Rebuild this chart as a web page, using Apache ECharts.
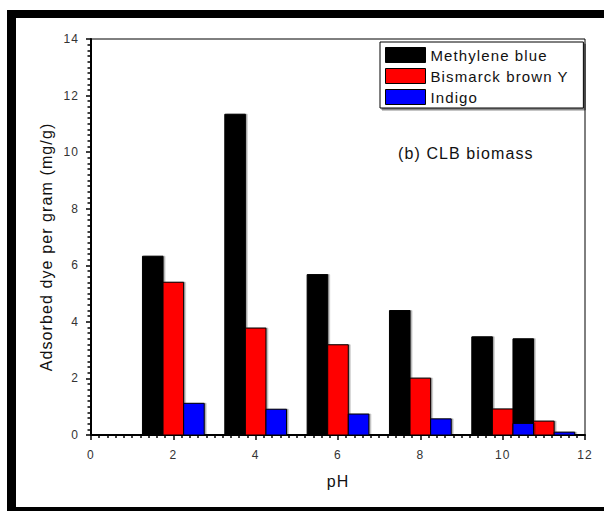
<!DOCTYPE html>
<html>
<head>
<meta charset="utf-8">
<script src="https://cdn.jsdelivr.net/npm/echarts@6/dist/echarts.min.js"></script>
<style>
  html, body { margin: 0; padding: 0; background: #fff; }
  #chart { width: 604px; height: 511px; }
  /* bitmap-style wide glyph spacing */
  #chart svg text { letter-spacing: 1.1px; }
</style>
</head>
<body>
<div id="chart"></div>
<script>
// pH of each bar group
const phValues = [2, 4, 6, 8, 10, 11];
// adsorbed dye per gram (mg/g)
const methyleneBlue = [6.32, 11.34, 5.67, 4.40, 3.47, 3.40];
const bismarckBrownY = [5.40, 3.78, 3.19, 2.01, 0.92, 0.49];
const indigo = [1.12, 0.91, 0.74, 0.57, 0.41, 0.10];

const seriesNames = ['Methylene blue', 'Bismarck brown Y', 'Indigo'];
const seriesColors = ['#000000', '#ff0000', '#0000ff'];
const seriesValues = [methyleneBlue, bismarckBrownY, indigo];
const barOffsets = [-0.5, 0, 0.5];   // pH offset of each series inside a group
const barHalfWidth = 0.25;          // half bar width, in pH units

const xTicks = { min: 0, max: 12, step: 2 };
const yTicks = { min: 0, max: 14, step: 2 };

const FONT = '"Liberation Sans", Arial, sans-serif';

const chart = echarts.init(document.getElementById('chart'), null, { renderer: 'svg' });

function makeBarSeries(idx) {
  const off = barOffsets[idx];
  return {
    name: seriesNames[idx],
    type: 'custom',
    itemStyle: { color: seriesColors[idx] },
    data: phValues.map((ph, i) => [ph, seriesValues[idx][i]]),
    encode: { x: 0, y: 1 },
    z: 2 + idx,
    renderItem: function (params, api) {
      const x = api.value(0) + off;
      const v = api.value(1);
      const tl = api.coord([x - barHalfWidth, v]);
      const br = api.coord([x + barHalfWidth, 0]);
      return {
        type: 'rect',
        shape: { x: tl[0], y: tl[1], width: br[0] - tl[0], height: br[1] - tl[1] },
        style: {
          fill: api.visual('color'),
          stroke: '#000',
          lineWidth: 1,
          shadowColor: 'rgba(0,0,0,0.35)',
          shadowOffsetX: 1.5,
          shadowOffsetY: 0,
          shadowBlur: 0
        }
      };
    }
  };
}

const option = {
  backgroundColor: '#fff',
  animation: false,
  grid: {
    left: 91, right: 19, top: 39, bottom: 76,
    show: true, borderColor: '#000', borderWidth: 1, backgroundColor: '#fff'
  },
  xAxis: {
    type: 'value',
    min: xTicks.min, max: xTicks.max, interval: xTicks.step,
    name: 'pH',
    nameLocation: 'middle',
    nameGap: 38,
    nameTextStyle: { fontFamily: FONT, fontSize: 16, color: '#111' },
    axisLine: { show: true, lineStyle: { color: '#000', width: 2 } },
    axisTick: { show: true, inside: false, length: 5, lineStyle: { color: '#000', width: 1.5 } },
    minorTick: { show: true, splitNumber: 10, length: 3, lineStyle: { color: '#000', width: 1.5 } },
    axisLabel: { margin: 14, fontFamily: FONT, fontSize: 12, color: '#333' },
    splitLine: { show: false },
    minorSplitLine: { show: false }
  },
  yAxis: {
    type: 'value',
    min: yTicks.min, max: yTicks.max, interval: yTicks.step,
    axisLine: { show: true, lineStyle: { color: '#000', width: 2 } },
    axisTick: { show: true, inside: false, length: 5, lineStyle: { color: '#000', width: 1.5 } },
    minorTick: { show: true, splitNumber: 10, length: 3.5, lineStyle: { color: '#000', width: 1.5 } },
    axisLabel: { margin: 12, fontFamily: FONT, fontSize: 12, color: '#333' },
    splitLine: { show: false },
    minorSplitLine: { show: false }
  },
  legend: {
    orient: 'vertical',
    left: 380, top: 42,
    icon: 'rect',
    itemWidth: 40, itemHeight: 15,
    itemGap: 5, itemTextGap: 5,
    padding: [5, 32, 3, 5],
    backgroundColor: '#fff',
    borderColor: '#000', borderWidth: 1,
    shadowColor: 'rgba(0,0,0,0.45)', shadowOffsetX: 2, shadowOffsetY: 2, shadowBlur: 0,
    itemStyle: { borderColor: '#000', borderWidth: 1 },
    textStyle: { fontFamily: FONT, fontSize: 15, color: '#111' },
    selectedMode: false,
    data: seriesNames
  },
  graphic: [
    // heavy black frame round the figure
    { type: 'rect', shape: { x: 7, y: 10, width: 597, height: 8 }, style: { fill: '#000' }, z: 10 },
    { type: 'rect', shape: { x: 7, y: 10, width: 9, height: 501 }, style: { fill: '#000' }, z: 10 },
    { type: 'rect', shape: { x: 7, y: 507, width: 597, height: 4 }, style: { fill: '#000' }, z: 10 },
    {
      type: 'text', x: 46, y: 247, rotation: Math.PI / 2,
      style: {
        text: 'Adsorbed dye per gram (mg/g)',
        fontFamily: FONT, fontSize: 16, fill: '#111',
        align: 'center', verticalAlign: 'middle'
      }
    },
    {
      type: 'text', x: 398, y: 153,
      style: {
        text: '(b) CLB biomass',
        fontFamily: FONT, fontSize: 16, fill: '#111',
        align: 'left', verticalAlign: 'middle'
      },
      z: 5
    }
  ],
  series: [makeBarSeries(0), makeBarSeries(1), makeBarSeries(2)]
};

chart.setOption(option);
</script>
</body>
</html>
